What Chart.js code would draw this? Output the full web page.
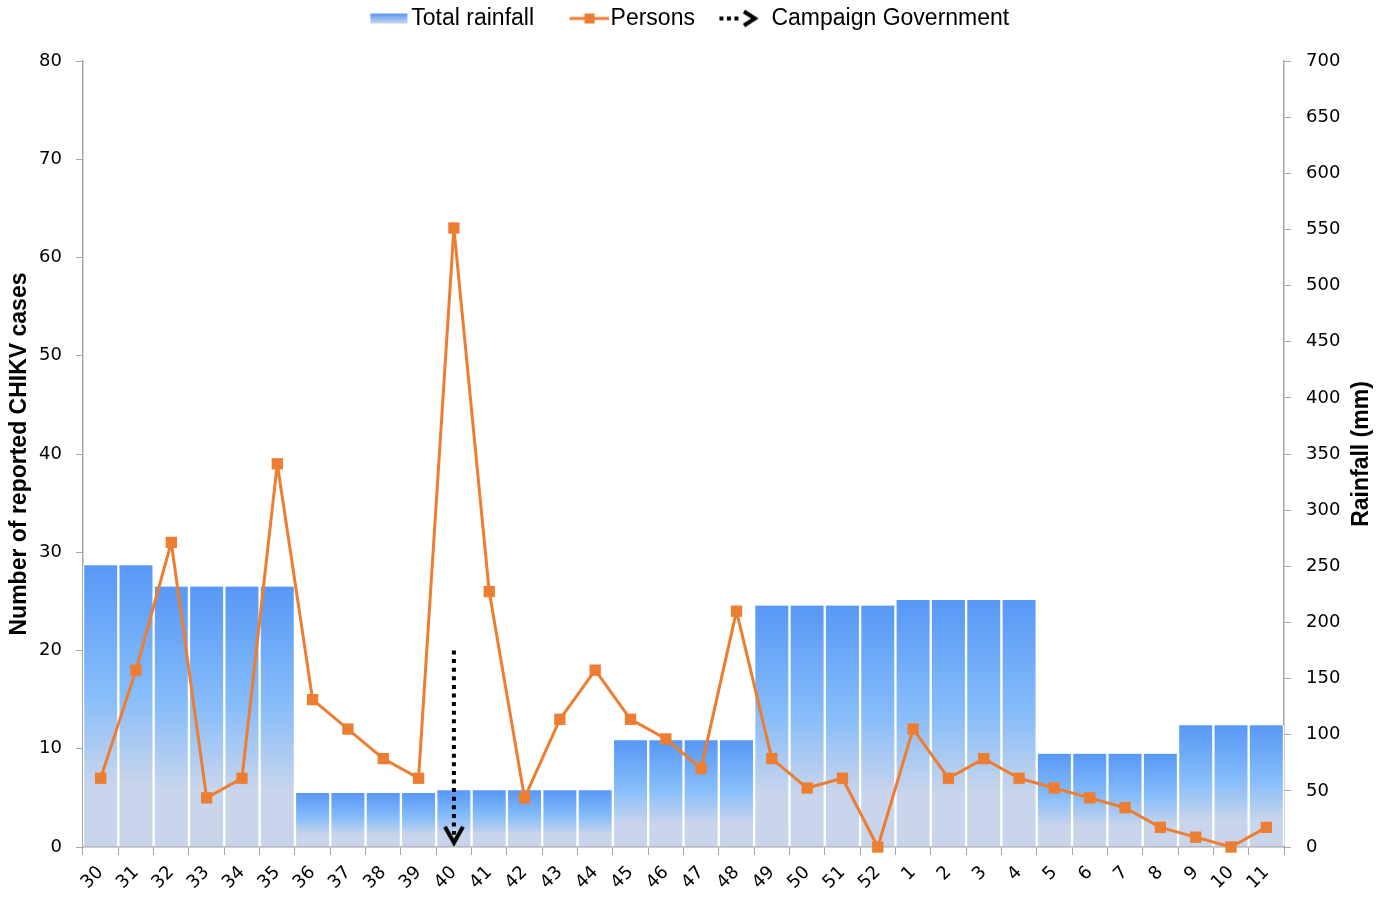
<!DOCTYPE html>
<html>
<head>
<meta charset="utf-8">
<title>CHIKV cases and rainfall</title>
<script src="https://cdn.jsdelivr.net/npm/chart.js@4.4.0/dist/chart.umd.min.js"></script>
<style>
    html, body { margin: 0; padding: 0; background: #ffffff; }
    #wrap { width: 1383px; height: 897px; }
</style>
</head>
<body>
<div id="wrap"><canvas id="chikvChart" width="1383" height="897"></canvas></div>
<script>
// Epidemiological weeks (30..52 then 1..11 of the next year)
var weeks = ['30', '31', '32', '33', '34', '35', '36', '37', '38', '39', '40', '41', '42', '43', '44', '45', '46', '47', '48', '49', '50', '51', '52',
    '1', '2', '3', '4', '5', '6', '7', '8', '9', '10', '11'];

// Total rainfall (mm), right axis
var rainfall = [251, 251, 232, 232, 232, 232, 48, 48, 48, 48, 50.5, 50.5, 50.5, 50.5, 50.5, 95, 95, 95, 95,
    215, 215, 215, 215, 220, 220, 220, 220, 83, 83, 83, 83, 108.5, 108.5, 108.5];

// Reported CHIKV cases, left axis
var persons = [7, 18, 31, 5, 7, 39, 15, 12, 9, 7, 63, 26, 5, 13, 18, 13, 11, 8, 24, 9, 6, 7, 0,
    12, 7, 9, 7, 6, 5, 4, 2, 1, 0, 2];

// Government campaign marker: week and the span of the arrow (cases axis)
var campaignWeek = '40';
var campaignFrom = 20;
var campaignTo = 1.25;

var casesTicks = { min: 0, max: 80, step: 10 };
var rainTicks = { min: 0, max: 700, step: 50 };

var orange = '#ED7D31';
var axisGrey = '#a6a6a6';
var tickFont = { family: 'DejaVu Sans', size: 18 };
var titleFont = { family: 'Liberation Sans', size: 23, weight: 'bold' };

function makeCanvas(w, h) {
    var c = document.createElement('canvas');
    c.width = w;
    c.height = h;
    return c;
}

// arrow head drawn at the end of the campaign line
function arrowHead() {
    var c = makeCanvas(24, 22);
    var g = c.getContext('2d');
    g.strokeStyle = '#000000';
    g.lineWidth = 4;
    g.beginPath();
    g.moveTo(3, 3);
    g.lineTo(12, 19);
    g.lineTo(21, 3);
    g.stroke();
    return c;
}

// legend swatches (wider than the box so the gaps match)
function rainSwatch() {
    var c = makeCanvas(78, 12);
    var g = c.getContext('2d');
    var grad = g.createLinearGradient(0, 1, 0, 11);
    grad.addColorStop(0, '#5898f6');
    grad.addColorStop(1, '#c8d6ee');
    g.fillStyle = grad;
    g.fillRect(38.5, 1, 37, 10);
    return c;
}

function personsSwatch() {
    var c = makeCanvas(78, 14);
    var g = c.getContext('2d');
    g.strokeStyle = orange;
    g.lineWidth = 3;
    g.beginPath();
    g.moveTo(38.5, 7);
    g.lineTo(78, 7);
    g.stroke();
    g.fillStyle = orange;
    g.fillRect(53.5, 2, 10, 10);
    return c;
}

function campaignSwatch() {
    var c = makeCanvas(78, 22);
    var g = c.getContext('2d');
    g.fillStyle = '#000000';
    g.fillRect(27.5, 9, 4, 4);
    g.fillRect(35, 9, 4, 4);
    g.fillRect(42.5, 9, 4, 4);
    g.strokeStyle = '#000000';
    g.lineWidth = 4;
    g.beginPath();
    g.moveTo(52, 4);
    g.lineTo(63, 11);
    g.lineTo(52, 18);
    g.stroke();
    return c;
}

// each bar gets its own blue -> grey-blue gradient
function rainGradient(context) {
    var chart = context.chart;
    if (!chart.chartArea || context.type !== 'data') {
        return '#6aaaf7';
    }
    var scale = chart.scales.y2;
    var top = scale.getPixelForValue(context.raw);
    var bottom = scale.getPixelForValue(0);
    var grad = chart.ctx.createLinearGradient(0, top, 0, bottom);
    grad.addColorStop(0, '#5898f6');
    grad.addColorStop(0.45, '#85bcfa');
    grad.addColorStop(0.78, '#c8d5ec');
    grad.addColorStop(1, '#c8d4ea');
    return grad;
}

// right axis title reads bottom to top, Chart.js would turn it the other way
var rightTitlePlugin = {
    id: 'rightTitle',
    afterDraw: function (chart) {
        var ctx = chart.ctx;
        var area = chart.chartArea;
        var scale = chart.scales.y2;
        ctx.save();
        ctx.translate(scale.right - 21, (area.top + area.bottom) / 2);
        ctx.rotate(-Math.PI / 2);
        ctx.font = 'bold 23px "Liberation Sans"';
        ctx.fillStyle = '#000000';
        ctx.textAlign = 'center';
        ctx.textBaseline = 'middle';
        ctx.fillText('Rainfall (mm)', 0, 0);
        ctx.restore();
    }
};

var arrowImg = arrowHead();
var legendImgs = [rainSwatch(), personsSwatch(), campaignSwatch()];
// trailing spaces pull the centred legend a bit to the left
var legendTexts = ['Total rainfall', 'Persons', 'Campaign Government     '];

var ctx = document.getElementById('chikvChart').getContext('2d');
var chikvChart = new Chart(ctx, {
    data: {
        labels: weeks,
        datasets: [{
            type: 'line',
            label: 'Campaign Government',
            data: [{ x: campaignWeek, y: campaignFrom }, { x: campaignWeek, y: campaignTo }],
            yAxisID: 'y',
            borderColor: '#000000',
            borderWidth: 4,
            borderDash: [4, 4.6],
            borderCapStyle: 'butt',
            pointRadius: [0, 6],
            pointStyle: arrowImg,
            clip: false,
            order: 0
        }, {
            type: 'line',
            label: 'Persons',
            data: persons,
            yAxisID: 'y',
            borderColor: orange,
            borderWidth: 3,
            borderJoinStyle: 'round',
            pointStyle: 'rect',
            pointRadius: 8,
            pointBackgroundColor: orange,
            pointBorderColor: orange,
            pointBorderWidth: 0,
            tension: 0,
            clip: false,
            order: 1
        }, {
            type: 'bar',
            label: 'Total rainfall',
            data: rainfall,
            yAxisID: 'y2',
            backgroundColor: rainGradient,
            borderColor: '#ffffff',
            borderWidth: { left: 1.5, right: 1.5, top: 0, bottom: 0 },
            borderSkipped: false,
            barPercentage: 1,
            categoryPercentage: 1,
            order: 2
        }]
    },
    options: {
        responsive: false,
        animation: false,
        events: [],
        layout: {
            padding: 0
        },
        plugins: {
            legend: {
                display: true,
                position: 'top',
                labels: {
                    usePointStyle: true,
                    pointStyleWidth: 58,
                    padding: 7,
                    color: '#000000',
                    font: { family: 'Liberation Sans', size: 23 },
                    generateLabels: function () {
                        return legendTexts.map(function (t, i) {
                            return {
                                text: t,
                                pointStyle: legendImgs[i],
                                fillStyle: 'transparent',
                                strokeStyle: 'transparent',
                                lineWidth: 0,
                                hidden: false,
                                datasetIndex: 2 - i
                            };
                        });
                    }
                }
            },
            // empty title used only as a spacer under the legend
            title: {
                display: true,
                text: '',
                position: 'top',
                weight: 500,
                font: { size: 10 },
                padding: { top: 4, bottom: 5 }
            },
            tooltip: { enabled: false }
        },
        scales: {
            x: {
                type: 'category',
                offset: true,
                grid: {
                    offset: true,
                    drawOnChartArea: false,
                    drawTicks: true,
                    tickLength: 8,
                    color: axisGrey
                },
                border: { display: true, color: axisGrey, width: 1.5 },
                ticks: {
                    autoSkip: false,
                    maxRotation: 45,
                    minRotation: 45,
                    padding: 7,
                    color: '#000000',
                    font: tickFont
                },
                afterFit: function (scale) { scale.height = 50; }
            },
            y: {
                position: 'left',
                min: casesTicks.min,
                max: casesTicks.max,
                grid: { drawOnChartArea: false, tickLength: 7, color: axisGrey },
                border: { display: true, color: axisGrey, width: 1.5 },
                ticks: { stepSize: casesTicks.step, padding: 14, color: '#000000', font: tickFont },
                title: {
                    display: true,
                    text: 'Number of reported CHIKV cases',
                    color: '#000000',
                    font: titleFont,
                    padding: { top: 6, bottom: 0 }
                },
                afterFit: function (scale) { scale.width = 83; }
            },
            y2: {
                position: 'right',
                min: rainTicks.min,
                max: rainTicks.max,
                grid: { drawOnChartArea: false, tickLength: 7, color: axisGrey },
                border: { display: true, color: axisGrey, width: 1.5 },
                ticks: { stepSize: rainTicks.step, padding: 15, color: '#000000', font: tickFont },
                afterFit: function (scale) { scale.width = 99; }
            }
        }
    },
    plugins: [rightTitlePlugin]
});
</script>
</body>
</html>
